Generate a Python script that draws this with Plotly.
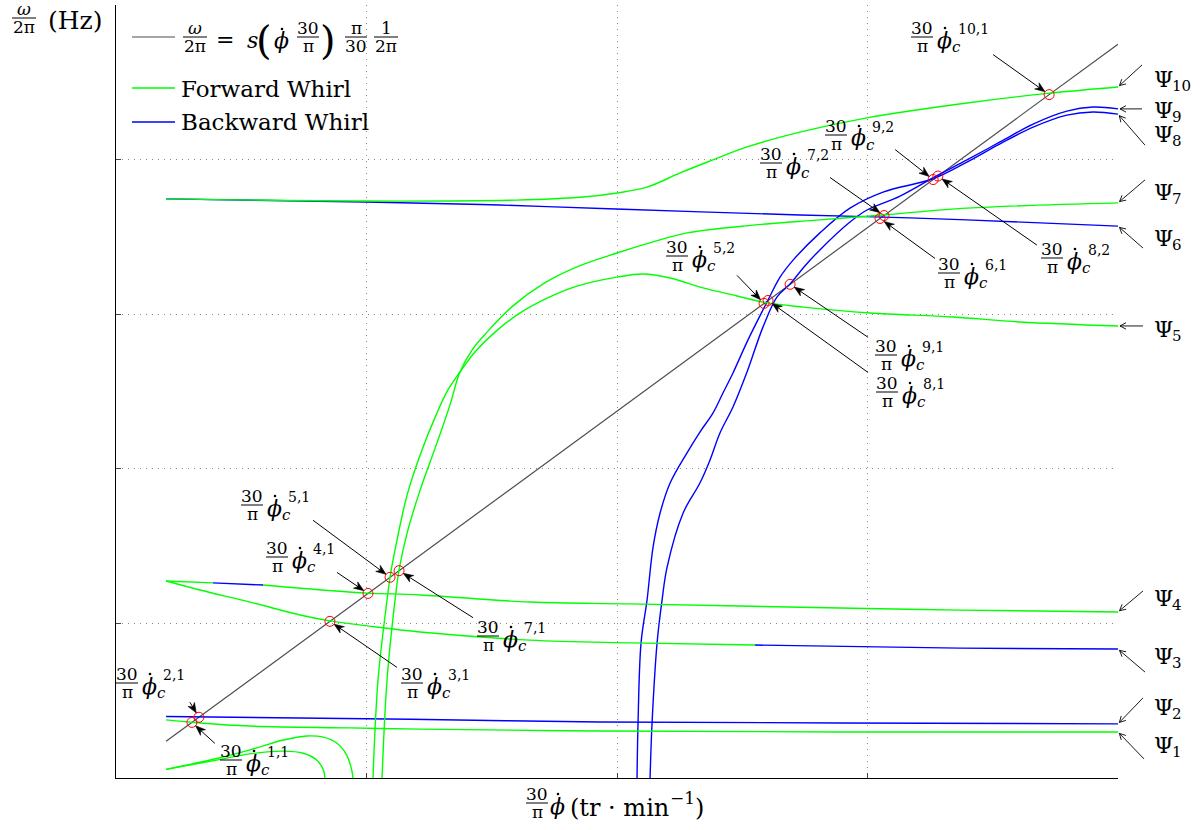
import math
import plotly.graph_objects as go

SERIF = "DejaVu Serif"
PHI = "\u03d5"

# ---------------------------------------------------------------------------
# Campbell diagram data: rotor speed (tr/min) vs whirl frequency (Hz)
# ---------------------------------------------------------------------------
S_RATIO = 0.356                      # excitation slope s
LINE_RPM = [2000, 40000]             # extent of the excitation line
RPM_RANGE = [0, 40000]
HZ_RANGE = [0, 250]

# low-frequency branches near the origin (forward)
LOW_A_RPM = [2000, 4020, 5350, 6680, 7610, 8280, 8810, 9210, 9410, 9460]
LOW_A_HZ = [2.8, 6.3, 9.1, 12.3, 13.6, 13.2, 11.3, 7.4, 2.6, 0.0]
LOW_B_RPM = [2000, 4020, 5350, 6680, 7480, 8010, 8280, 8340]
LOW_B_HZ = [2.8, 5.8, 7.8, 8.7, 8.0, 5.8, 2.6, 0.0]

# mode 1 (forward) and mode 2 (backward)
PSI1_RPM = [2000, 3350, 5350, 9340, 12140, 19320, 28900, 40000]
PSI1_HZ = [18.8, 17.8, 16.8, 16.2, 15.8, 15.2, 14.9, 14.9]
PSI2_RPM = [2000, 11740, 19320, 28900, 40000]
PSI2_HZ = [19.9, 19.0, 18.1, 17.8, 17.5]

# mode 3: forward then backward
PSI3_FW_RPM = [2000, 3350, 5350, 7350, 8540, 10020, 12140, 16530, 20520, 25510]
PSI3_FW_HZ = [63.7, 60.8, 56.9, 52.7, 50.8, 49.2, 47.2, 44.6, 43.7, 43.0]
PSI3_BW_RPM = [25510, 33690, 40000]
PSI3_BW_HZ = [43.0, 42.0, 41.7]

# mode 4: forward, short backward stretch, forward
PSI4_FW_A_RPM = [2000, 3870]
PSI4_FW_A_HZ = [63.7, 63.1]
PSI4_BW_RPM = [3870, 5870]
PSI4_BW_HZ = [63.1, 62.4]
PSI4_FW_B_RPM = [5870, 8540, 10020, 12140, 16530, 20520, 28900, 33690, 40000]
PSI4_FW_B_HZ = [62.4, 60.6, 59.8, 59.2, 56.9, 56.3, 55.0, 54.3, 53.7]

# modes 5 and 7 (forward, rising from low speed)
PSI5_RPM = [10260, 10460, 10820, 10940, 11220, 11620, 12140, 12810, 13250, 13730,
            14330, 15130, 16130, 17210, 18400, 20000, 21040, 22120, 23430, 24790,
            25830, 27430, 30100, 33410, 36090, 40000]
PSI5_HZ = [0.0, 31.7, 57.6, 65.0, 77.0, 91.5, 104.5, 118.0, 125.5, 131.3,
           137.8, 144.2, 150.4, 155.2, 159.1, 162.0, 163.0, 161.7, 158.5, 155.9,
           153.9, 152.3, 150.4, 149.1, 147.5, 146.2]
PSI7_RPM = [10620, 10820, 11140, 11300, 11620, 12140, 12810, 13330, 13730, 14210,
            14810, 15850, 17050, 18400, 20000, 21440, 22790, 25430, 28100, 30620,
            33970, 40000]
PSI7_HZ = [0.0, 31.7, 57.6, 67.3, 79.2, 93.1, 108.3, 120.6, 131.3, 138.4,
           144.2, 152.7, 159.8, 165.3, 169.8, 173.4, 176.3, 178.8, 180.5, 182.1,
           184.3, 186.0]

# mode 6 (backward) and mode 10 (forward)
PSI6_RPM = [2000, 9980, 15330, 19960, 27300, 30620, 33970, 40000]
PSI6_HZ = [187.3, 186.3, 185.3, 184.0, 182.1, 181.4, 180.5, 178.5]
PSI10_RPM = [2000, 9980, 15970, 18640, 20000, 21200, 22520, 23830, 25190, 27300,
             29980, 33970, 37290, 40000]
PSI10_HZ = [187.3, 186.6, 186.9, 187.9, 189.2, 191.1, 195.7, 199.9, 204.1, 208.9,
            213.5, 218.3, 221.5, 223.5]

# modes 8 and 9 (backward, rising from mid speed)
PSI8_RPM = [20800, 20840, 20960, 21200, 21440, 21720, 22120, 22790, 23310, 23830,
            24230, 24630, 25230, 26030, 26510, 27030, 28100, 29300, 30620, 32620,
            33970, 35290, 36610, 37960, 39000, 40000]
PSI8_HZ = [0.0, 17.8, 43.7, 57.6, 74.7, 85.7, 95.4, 105.1, 111.9, 118.0,
           124.5, 131.0, 141.7, 154.6, 162.0, 167.5, 176.3, 184.3, 189.5, 193.8,
           199.2, 205.1, 210.5, 214.4, 215.4, 214.7]
PSI9_RPM = [21320, 21400, 21600, 21800, 22000, 22640, 23310, 23710, 24110, 24630,
            25190, 25830, 26390, 26910, 27500, 28100, 29300, 29980, 31300, 32810,
            33970, 35290, 36610, 37960, 39000, 40000]
PSI9_HZ = [0.0, 17.8, 43.7, 57.6, 68.2, 85.7, 95.4, 102.8, 111.6, 120.0,
           131.3, 145.9, 155.6, 159.8, 165.6, 170.8, 179.8, 183.7, 188.2, 195.0,
           199.9, 205.7, 211.5, 215.7, 217.0, 216.4]

# critical speeds: crossings of the excitation line with the modes
CRIT_RPM = [3030, 3310, 8540, 10060, 10940, 11300, 25870, 26030, 26910,
            30500, 30660, 32620, 32810, 37250]

# curve labels at the right-hand end of each mode
PSI_NAMES = ["1", "2", "3", "4", "5", "6", "7", "8", "9", "10"]
PSI_END_HZ = [PSI1_HZ[-1], PSI2_HZ[-1], PSI3_BW_HZ[-1], PSI4_FW_B_HZ[-1], PSI5_HZ[-1],
              PSI6_HZ[-1], PSI7_HZ[-1], PSI8_HZ[-1], PSI9_HZ[-1], PSI10_HZ[-1]]

GREEN = "#00ff00"
BLUE = "#0000ff"
GREY = "#4d4d4d"


def hz_of(rpm):
    # excitation line  w/2pi = s * (30/pi * phi_dot) * pi/30 / (2 pi)
    return S_RATIO * rpm / 60.0


fig = go.Figure()

fig.add_trace(go.Scatter(x=LINE_RPM, y=[hz_of(v) for v in LINE_RPM], mode="lines",
                         line=dict(color=GREY, width=1.2), hoverinfo="skip"))

backward = [(PSI2_RPM, PSI2_HZ), (PSI3_BW_RPM, PSI3_BW_HZ), (PSI4_BW_RPM, PSI4_BW_HZ),
            (PSI6_RPM, PSI6_HZ), (PSI8_RPM, PSI8_HZ), (PSI9_RPM, PSI9_HZ)]
forward = [(LOW_A_RPM, LOW_A_HZ), (LOW_B_RPM, LOW_B_HZ), (PSI1_RPM, PSI1_HZ),
           (PSI3_FW_RPM, PSI3_FW_HZ), (PSI4_FW_A_RPM, PSI4_FW_A_HZ),
           (PSI4_FW_B_RPM, PSI4_FW_B_HZ), (PSI5_RPM, PSI5_HZ), (PSI7_RPM, PSI7_HZ),
           (PSI10_RPM, PSI10_HZ)]

for xs, ys in backward:
    fig.add_trace(go.Scatter(x=xs, y=ys, mode="lines", line_shape="spline",
                             line=dict(color=BLUE, width=1.4)))
for xs, ys in forward:
    fig.add_trace(go.Scatter(x=xs, y=ys, mode="lines", line_shape="spline",
                             line=dict(color=GREEN, width=1.4)))

fig.add_trace(go.Scatter(x=CRIT_RPM, y=[hz_of(v) for v in CRIT_RPM], mode="markers",
                         marker=dict(symbol="circle-open", size=10, color="red",
                                     line=dict(width=1, color="red"))))

# ---------------------------------------------------------------------------
# layout helpers (pixel positions inside the 1204 x 830 page)
# ---------------------------------------------------------------------------
PL, PR, PT, PB = 116, 1118, 5, 778


def px_x(px):
    return (px - PL) / (PR - PL)


def px_y(py):
    return (PB - py) / (PB - PT)


def data_to_px(rpm, hz):
    fx = (rpm - RPM_RANGE[0]) / (RPM_RANGE[1] - RPM_RANGE[0])
    fy = (hz - HZ_RANGE[0]) / (HZ_RANGE[1] - HZ_RANGE[0])
    return PL + fx * (PR - PL), PB - fy * (PB - PT)


def text_at(px, py, s, size, xanchor="center", yanchor="middle"):
    fig.add_annotation(x=px_x(px), y=px_y(py), xref="paper", yref="paper", text=s,
                       showarrow=False, xanchor=xanchor, yanchor=yanchor, borderpad=0,
                       font=dict(family=SERIF, size=size, color="black"))


def seg(x0, y0, x1, y1, color="black", width=1.0):
    fig.add_shape(type="line", xref="paper", yref="paper", x0=px_x(x0), x1=px_x(x1),
                  y0=px_y(y0), y1=px_y(y1), line=dict(color=color, width=width),
                  layer="above")


def hline(x0, x1, y, color="black", width=1.0):
    seg(x0, y, x1, y, color, width)


def polygon(points, fill=True):
    path = "M" + " L".join(f"{px_x(x):.5f},{px_y(y):.5f}" for x, y in points)
    if fill:
        path += " Z"
    fig.add_shape(type="path", xref="paper", yref="paper", path=path,
                  fillcolor="black" if fill else None,
                  line=dict(color="black", width=0.6 if fill else 0.9), layer="above")


def dot(x, y, r=1.3):
    fig.add_shape(type="circle", xref="paper", yref="paper",
                  x0=px_x(x - r), x1=px_x(x + r), y0=px_y(y + r), y1=px_y(y - r),
                  fillcolor="black", line=dict(width=0), layer="above")


def stealth_arrow(hx, hy, ax, ay, standoff=5.0, length=10.0, half_w=3.8):
    # arrow from (hx+ax, hy+ay) pointing at (hx, hy), stopping `standoff` px short
    d = math.hypot(ax, ay)
    ux, uy = ax / d, ay / d
    nx, ny = -uy, ux
    tx, ty = hx + standoff * ux, hy + standoff * uy
    bx, by = tx + length * ux, ty + length * uy
    mx, my = tx + 0.7 * length * ux, ty + 0.7 * length * uy
    seg(hx + ax, hy + ay, mx, my)
    polygon([(tx, ty), (bx + half_w * nx, by + half_w * ny), (mx, my),
             (bx - half_w * nx, by - half_w * ny)])


def open_arrow(hx, hy, ax, ay, standoff=2.0, length=6.0, half_w=3.2):
    d = math.hypot(ax, ay)
    ux, uy = ax / d, ay / d
    nx, ny = -uy, ux
    tx, ty = hx + standoff * ux, hy + standoff * uy
    bx, by = tx + length * ux, ty + length * uy
    seg(hx + ax, hy + ay, tx, ty, width=0.9)
    polygon([(bx + half_w * nx, by + half_w * ny), (tx, ty),
             (bx - half_w * nx, by - half_w * ny)], fill=False)


def frac(cx, cy, num, den, size=17, half=11):
    text_at(cx, cy - 9, num, size)
    text_at(cx, cy + 9, den, size)
    hline(cx - half, cx + half, cy)


def phi_dot(left, cy, size=22):
    # phi with an over-dot (time derivative)
    text_at(left, cy, "<i>" + PHI + "</i>", size, xanchor="left")
    dot(left + 9, cy - 12)


def phi_label(cx, cy, tag):
    frac(cx, cy, "30", "\u03c0")
    phi_dot(cx + 14, cy + 3)
    text_at(cx + 29, cy + 10, "<i>c</i>", 15, xanchor="left")
    text_at(cx + 35, cy - 8, tag, 14, xanchor="left")


# legend panel
fig.add_shape(type="rect", xref="paper", yref="paper", x0=px_x(116.6), x1=px_x(413),
              y0=px_y(142), y1=px_y(5.2), fillcolor="white", line=dict(width=0),
              layer="between")
hline(132, 175, 37, GREY, 1.2)
hline(132, 175, 88, GREEN, 1.6)
hline(132, 175, 122, BLUE, 1.6)
frac(195, 37, "<i>\u03c9</i>", "2\u03c0", half=12)
text_at(225, 39, "=", 22)
text_at(252, 40, "<i>s</i>", 22)
text_at(264, 40, "(", 40)
phi_dot(273, 41)
frac(308, 37, "30", "\u03c0")
text_at(328, 40, ")", 40)
frac(356, 37, "\u03c0", "30")
frac(386, 37, "1", "2\u03c0", half=12)
text_at(180, 88.5, "Forward Whirl", 23, xanchor="left")
text_at(180, 121.5, "Backward Whirl", 23, xanchor="left")

# axis titles
frac(24, 18, "<i>\u03c9</i>", "2\u03c0", half=12)
text_at(47, 20, "(Hz)", 25, xanchor="left")
frac(537, 803, "30", "\u03c0")
phi_dot(549, 806)
text_at(569, 808, "(tr \u00b7 min", 24, xanchor="left")
text_at(669, 798, "\u22121", 17, xanchor="left")
text_at(694, 808, ")", 24, xanchor="left")

# critical-speed labels
LABELS = [("10,1", 922, 37), ("9,2", 836, 135), ("7,2", 771, 163), ("8,2", 1052, 258),
          ("5,2", 677, 256), ("6,1", 949, 273), ("9,1", 886, 355), ("8,1", 887, 392),
          ("5,1", 252, 505), ("4,1", 277, 557), ("2,1", 127, 683), ("1,1", 231, 760),
          ("3,1", 412, 683), ("7,1", 488, 636)]
for tag, cx, cy in LABELS:
    phi_label(cx, cy, tag)

# arrows from the labels to the crossings (index into CRIT_RPM, tail offset in px)
ARROWS = [(0, 23, 21), (1, -9, -15), (2, 67, 46), (3, -31, -21), (4, -77, -57),
          (5, 74, 47), (6, -27, -28), (7, 100, 72), (8, 78, 53), (9, 55, 40),
          (10, -54, -38), (11, -38, -30), (12, 99, 69), (13, -56, -40)]
for idx, ax, ay in ARROWS:
    hx, hy = data_to_px(CRIT_RPM[idx], hz_of(CRIT_RPM[idx]))
    stealth_arrow(hx, hy, ax, ay)

# mode names at the right edge
PSI_TEXT_Y = [745, 707, 656, 598, 329, 238, 192, 134, 110, 79]
PSI_TAILS = [(26, 27), (25, -26), (27, 23), (25, -21), (25, 0), (25, 22), (27, -23),
             (27, 31), (24, 0), (24, -22)]
for name, yend, ty, (ax, ay) in zip(PSI_NAMES, PSI_END_HZ, PSI_TEXT_Y, PSI_TAILS):
    hx, hy = data_to_px(RPM_RANGE[1], yend)
    open_arrow(hx, hy, ax, ay)
    text_at(1153, ty, "\u03a8", 22, xanchor="left")
    text_at(1171, ty + 7, name, 15, xanchor="left")

axis_style = dict(showticklabels=False, ticks="inside", ticklen=5, tickcolor="#444",
                  showgrid=True, gridcolor="#8c8c8c", griddash="1px,5px", gridwidth=1,
                  showline=True, linecolor="black", linewidth=1, zeroline=False,
                  mirror=False)
fig.update_xaxes(range=RPM_RANGE, tick0=0, dtick=10000, **axis_style)
fig.update_yaxes(range=HZ_RANGE, tick0=0, dtick=50, **axis_style)

fig.update_layout(width=1204, height=830, margin=dict(l=116, r=86, t=5, b=52),
                  paper_bgcolor="white", plot_bgcolor="white", showlegend=False,
                  font=dict(family=SERIF, color="black"))

fig.write_html("out.html")
